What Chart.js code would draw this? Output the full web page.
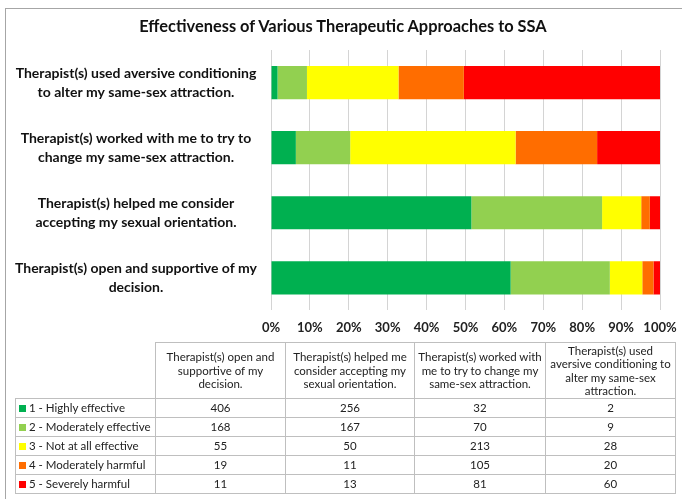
<!DOCTYPE html>
<html>
<head>
<meta charset="utf-8">
<script src="https://cdn.jsdelivr.net/npm/chart.js@4"></script>
<style>
  body { margin: 0; background: #fff; font-family: Lato, 'Open Sans', sans-serif; }
  #wrap { position: relative; width: 682px; height: 499px; overflow: hidden; }
  #frame { position: absolute; left: 5px; top: 8px; width: 700px; height: 520px; border-top: 1px solid #a6a6a6; border-left: 1px solid #a6a6a6; }
  #title { position: absolute; left: 0; width: 686px; top: 15px; text-align: center; font-size: 16.4px; font-weight: bold; color: #111; line-height: 22px; }
  #chartBox { position: absolute; left: 0; top: 0; width: 682px; height: 346px; }
  #dataTable { position: absolute; left: 15px; top: 342px; width: 660px; table-layout: fixed; border-collapse: collapse; font-size: 11.5px; color: #222; }
  #dataTable td, #dataTable th { border: 1px solid #bfbfbf; padding: 0; text-align: center; white-space: nowrap; overflow: hidden; }
  #dataTable th { font-weight: normal; height: 55px; line-height: 13.5px; }
  #dataTable th.blank { border-top: none; border-left: none; }
  #dataTable td { height: 18px; line-height: 16px; }
  #dataTable td.lbl { text-align: left; padding-left: 3px; }
  .key { display: inline-block; width: 7px; height: 7px; margin-right: 3px; vertical-align: 0; }
</style>
</head>
<body>
<div id="wrap">
  <div id="frame"></div>
  <div id="chartBox"><canvas id="ssaChart"></canvas></div>
  <div id="title">Effectiveness of Various Therapeutic Approaches to SSA</div>
  <table id="dataTable"></table>
</div>
<script>
// categories, in the table's order (first one sits at the bottom of the chart)
const categories = [
  'Therapist(s) open and supportive of my decision.',
  'Therapist(s) helped me consider accepting my sexual orientation.',
  'Therapist(s) worked with me to try to change my same-sex attraction.',
  'Therapist(s) used aversive conditioning to alter my same-sex attraction.'
];
const axisLabels = [
  ['Therapist(s) open and supportive of my', 'decision.'],
  ['Therapist(s) helped me consider', 'accepting my sexual orientation.'],
  ['Therapist(s) worked with me to try to', 'change my same-sex attraction.'],
  ['Therapist(s) used aversive conditioning', 'to alter my same-sex attraction.']
];
const headerLines = [
  ['Therapist(s) open and', 'supportive of my', 'decision.'],
  ['Therapist(s) helped me', 'consider accepting my', 'sexual orientation.'],
  ['Therapist(s) worked with', 'me to try to change my', 'same-sex attraction.'],
  ['Therapist(s) used', 'aversive conditioning to', 'alter my same-sex', 'attraction.']
];

const seriesNames = ['1 - Highly effective', '2 - Moderately effective', '3 - Not at all effective', '4 - Moderately harmful', '5 - Severely harmful'];
const highlyEffective = [406, 256, 32, 2];
const moderatelyEffective = [168, 167, 70, 9];
const notEffective = [55, 50, 213, 28];
const moderatelyHarmful = [19, 11, 105, 20];
const severelyHarmful = [11, 13, 81, 60];
const seriesColors = ['#00b050', '#92d050', '#ffff00', '#ff6d00', '#ff0000'];
const percentTicks = [0, 10, 20, 30, 40, 50, 60, 70, 80, 90, 100];

const counts = [highlyEffective, moderatelyEffective, notEffective, moderatelyHarmful, severelyHarmful];
const totals = categories.map((c, i) => counts.reduce((s, arr) => s + arr[i], 0));

const datasets = counts.map((arr, k) => ({
  label: seriesNames[k],
  data: arr.map((v, i) => v / totals[i] * 100),
  backgroundColor: seriesColors[k],
  borderWidth: 0,
  barPercentage: 0.51,
  categoryPercentage: 1
}));

new Chart(document.getElementById('ssaChart'), {
  type: 'bar',
  data: { labels: axisLabels, datasets: datasets },
  options: {
    indexAxis: 'y',
    responsive: true,
    maintainAspectRatio: false,
    animation: false,
    layout: { padding: { left: 5, right: 22, top: 50, bottom: 0 } },
    plugins: {
      legend: { display: false },
      tooltip: { enabled: false }
    },
    scales: {
      x: {
        stacked: true,
        min: 0,
        max: 100,
        afterBuildTicks: (axis) => { axis.ticks = percentTicks.map(v => ({ value: v })); },
        afterFit: (axis) => { axis.paddingLeft = 0; axis.paddingRight = 0; },
        ticks: {
          callback: (v) => v + '%',
          color: '#222',
          maxRotation: 0,
          autoSkip: false,
          font: { family: 'Lato', size: 13, weight: 'bold' },
          padding: 10
        },
        grid: { color: '#d4d4d4', drawTicks: false },
        border: { display: false }
      },
      y: {
        stacked: true,
        reverse: true,
        grid: { display: false },
        border: { display: false },
        afterFit: (axis) => { axis.width = 266; },
        ticks: {
          crossAlign: 'center',
          padding: 6,
          color: '#111',
          font: { family: 'Lato', size: 14, weight: 'bold', lineHeight: 1.35 }
        }
      }
    }
  }
});

// data table under the chart
const table = document.getElementById('dataTable');
const colWidths = [140, 130, 129, 131, 130];
let html = '<colgroup>' + colWidths.map(w => '<col style="width:' + w + 'px">').join('') + '</colgroup>';
html += '<tr><th class="blank"></th>';
headerLines.forEach(lines => { html += '<th>' + lines.join('<br>') + '</th>'; });
html += '</tr>';
counts.forEach((arr, k) => {
  html += '<tr><td class="lbl"><span class="key" style="background:' + seriesColors[k] + '"></span>' + seriesNames[k] + '</td>';
  arr.forEach(v => { html += '<td>' + v + '</td>'; });
  html += '</tr>';
});
table.innerHTML = html;
</script>
</body>
</html>
